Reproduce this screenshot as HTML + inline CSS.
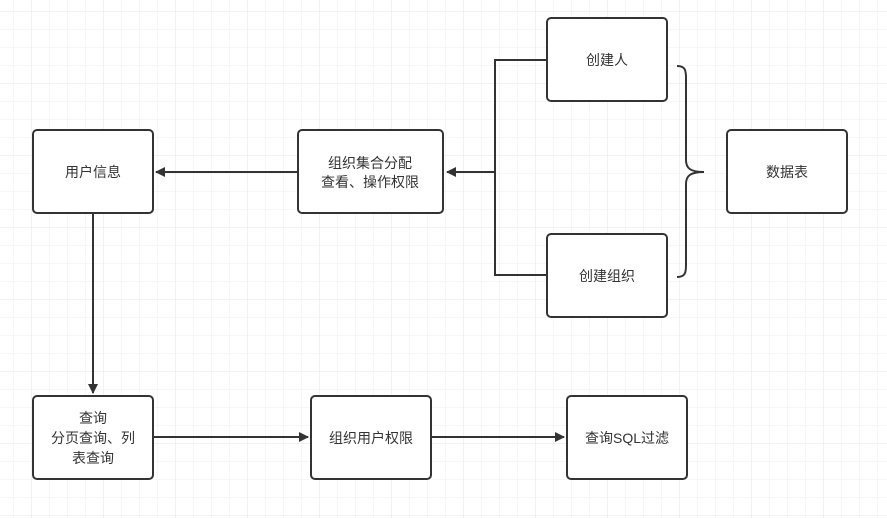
<!DOCTYPE html>
<html><head><meta charset="utf-8"><style>
html,body{margin:0;padding:0;background:#fff}
svg{display:block}
text{font-family:"Liberation Sans","Noto Sans CJK SC",sans-serif;font-size:14px;fill:#333;text-anchor:middle;dominant-baseline:central}
</style></head><body>
<svg width="887" height="518" viewBox="0 0 887 518" xmlns="http://www.w3.org/2000/svg">
<defs>
<pattern id="minor" x="13" y="11" width="18" height="18" patternUnits="userSpaceOnUse">
<path d="M0 0H18M0 0V18" stroke="#efefef" stroke-width="1" fill="none"/>
</pattern>
<pattern id="major" x="31" y="11" width="72" height="72" patternUnits="userSpaceOnUse">
<path d="M0 0H72M0 0V72" stroke="#e4e4e4" stroke-width="1" fill="none"/>
</pattern>
<marker id="ar" markerWidth="10" markerHeight="10" refX="9" refY="5" orient="auto" markerUnits="userSpaceOnUse">
<path d="M0 0L10 5L0 10Z" fill="#333"/>
</marker>
</defs>
<rect width="887" height="518" fill="url(#minor)"/>
<rect width="887" height="518" fill="url(#major)"/>
<g fill="none" stroke="#333" stroke-width="2">
<path d="M547 60H495V275H547"/>
<path d="M495 172H447" marker-end="url(#ar)"/>
<path d="M298 172H156" marker-end="url(#ar)"/>
<path d="M93 213V393" marker-end="url(#ar)"/>
<path d="M153 437H308" marker-end="url(#ar)"/>
<path d="M431 437H564" marker-end="url(#ar)"/>
<path d="M677 66C685 66 686 70 686 78V160C686 168 690 172 704 172C690 172 686 176 686 184V265C686 273 685 277 677 277"/>
</g>
<g fill="#fff" stroke="#333" stroke-width="2">
<rect x="33" y="130" width="120" height="83" rx="4"/>
<rect x="298" y="130" width="145" height="83" rx="4"/>
<rect x="547" y="18" width="120" height="83" rx="4"/>
<rect x="547" y="234" width="120" height="83" rx="4"/>
<rect x="727" y="130" width="120" height="83" rx="4"/>
<rect x="33" y="396" width="120" height="83" rx="4"/>
<rect x="311" y="396" width="120" height="83" rx="4"/>
<rect x="567" y="396" width="120" height="83" rx="4"/>
</g>
<text x="93" y="172">用户信息</text>
<text x="370" y="163">组织集合分配</text>
<text x="370" y="182">查看、操作权限</text>
<text x="607" y="60">创建人</text>
<text x="607" y="276">创建组织</text>
<text x="787" y="172">数据表</text>
<text x="93" y="418">查询</text>
<text x="93" y="438">分页查询、列</text>
<text x="93" y="458">表查询</text>
<text x="371" y="438">组织用户权限</text>
<text x="627" y="438">查询SQL过滤</text>
</svg>
</body></html>
